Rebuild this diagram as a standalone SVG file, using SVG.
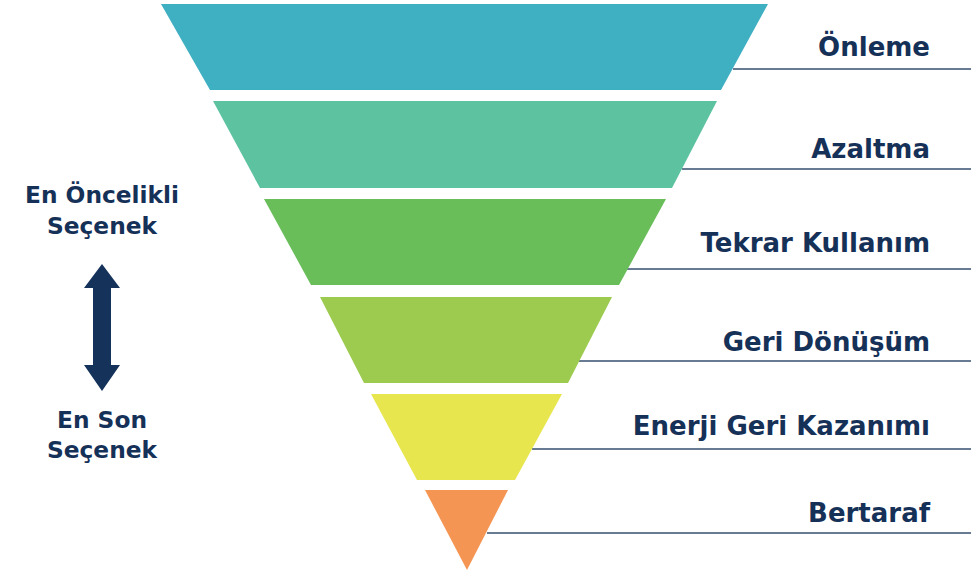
<svg xmlns="http://www.w3.org/2000/svg" width="971" height="573" viewBox="0 0 971 573">
<style>
.lbl{font-family:"DejaVu Sans","Liberation Sans",sans-serif;font-weight:bold;font-size:26px;fill:#163158;text-anchor:end}
.side{font-family:"DejaVu Sans","Liberation Sans",sans-serif;font-weight:bold;font-size:23.3px;fill:#163158;text-anchor:middle}
.ln{stroke:#34506F;stroke-width:1.4;fill:none}
</style>
<rect width="971" height="573" fill="#FFFFFF"/>
<g id="connectors">
<line class="ln" x1="733" y1="69" x2="971" y2="69"/>
<line class="ln" x1="682" y1="169" x2="971" y2="169"/>
<line class="ln" x1="627" y1="269" x2="971" y2="269"/>
<line class="ln" x1="579" y1="361" x2="971" y2="361"/>
<line class="ln" x1="532" y1="449" x2="971" y2="449"/>
<line class="ln" x1="487" y1="533" x2="971" y2="533"/>
</g>
<g id="onleme">
<polygon points="161,4 768,4 721,90 210,90" fill="#3FAFC2"/>
<text class="lbl" x="930" y="56">Önleme</text>
</g>
<g id="azaltma">
<polygon points="213,101 717,101 672,188 260,188" fill="#5CC29F"/>
<text class="lbl" x="930" y="158">Azaltma</text>
</g>
<g id="tekrar-kullanim">
<polygon points="264,199 666,199 619,285 311,285" fill="#69BE5A"/>
<text class="lbl" x="930" y="252">Tekrar Kullanım</text>
</g>
<g id="geri-donusum">
<polygon points="320,297 612,297 568,383 364,383" fill="#9CCB4F"/>
<text class="lbl" x="930" y="351">Geri Dönüşüm</text>
</g>
<g id="enerji-geri-kazanimi">
<polygon points="371,394 562,394 515,480 417,480" fill="#E8E64E"/>
<text class="lbl" x="930" y="435">Enerji Geri Kazanımı</text>
</g>
<g id="bertaraf">
<polygon points="425,490 508,490 467,570" fill="#F59553"/>
<text class="lbl" x="930" y="522">Bertaraf</text>
</g>
<g id="oncelik">
<text class="side" x="102" y="203">En Öncelikli</text>
<text class="side" x="102" y="234">Seçenek</text>
<path d="M102,264 L120,288 L111,288 L111,365 L120,365 L102,391 L84,365 L93,365 L93,288 L84,288 Z" fill="#14325A"/>
<text class="side" x="102" y="428">En Son</text>
<text class="side" x="102" y="458">Seçenek</text>
</g>
</svg>
